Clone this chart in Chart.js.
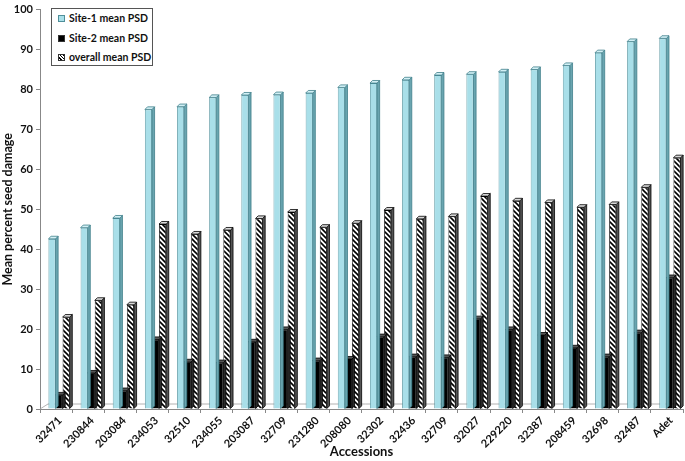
<!DOCTYPE html>
<html>
<head>
<meta charset="utf-8">
<script src="https://cdn.jsdelivr.net/npm/chart.js@4.4.1/dist/chart.umd.min.js"></script>
<style>
  html, body { margin: 0; padding: 0; background: #fff; }
  #wrap { position: relative; width: 685px; height: 461px; }
  #legend {
    position: absolute; left: 51px; top: 8px; width: 102px; height: 58px;
    border: 1px solid #555; background: #fff; box-sizing: border-box;
    font-family: Lato, "Open Sans", sans-serif; font-weight: bold; font-size: 10.5px; color: #111;
  }
  .item { position: absolute; left: 6px; height: 12px; line-height: 12px; white-space: nowrap; }
  .sw { display: inline-block; width: 7px; height: 7px; vertical-align: middle; margin-right: 4px; box-sizing: border-box; border: 1px solid #333; position: relative; top: -1px; }
</style>
</head>
<body>
<div id="wrap">
  <canvas id="c" width="685" height="461"></canvas>
  <div id="legend">
    <div class="item" style="top:3px"><span class="sw" style="background:#a9dfe9;border-color:#4f8f9a"></span>Site-1 mean PSD</div>
    <div class="item" style="top:23px"><span class="sw" style="background:#000"></span>Site-2 mean PSD</div>
    <div class="item" style="top:42px"><span class="sw" style="background:repeating-linear-gradient(45deg,#fff 0 1.2px,#000 1.2px 2.4px)"></span>overall mean PSD</div>
  </div>
</div>
<script>
const categories = ['32471','230844','203084','234053','32510','234055','203087','32709','231280','208080','32302','32436','32709','32027','229220','32387','208459','32698','32487','Adet'];
const site1Mean = [42.6,45.4,47.8,75.0,75.7,78.0,78.6,78.7,79.1,80.5,81.6,82.4,83.6,83.8,84.4,85.0,86.0,89.2,92.0,92.8];
const site2Mean = [3.5,9.0,4.6,17.4,11.8,11.6,16.8,19.9,12.1,12.5,18.1,13.1,12.9,22.6,19.9,18.5,15.3,13.1,19.1,32.9];
const overallMean = [23.0,27.2,26.1,46.3,43.8,44.8,47.7,49.3,45.5,46.5,49.8,47.6,48.2,53.3,52.1,51.7,50.5,51.2,55.5,62.9];
const yTicks = [0,10,20,30,40,50,60,70,80,90,100];

function hatch() {
  const p = document.createElement('canvas');
  p.width = 5; p.height = 5;
  const g = p.getContext('2d');
  g.fillStyle = '#fff'; g.fillRect(0,0,5,5);
  g.strokeStyle = '#000'; g.lineWidth = 1.6;
  g.beginPath();
  g.moveTo(-1,-1); g.lineTo(6,6);
  g.moveTo(-1,4); g.lineTo(1,6);
  g.moveTo(4,-1); g.lineTo(6,1);
  g.stroke();
  return document.getElementById('c').getContext('2d').createPattern(p,'repeat');
}
const hatchPattern = hatch();

const faces = [
  { side: '#6aa5b0', top: '#d2f0f5', edge: '#3f7f8a' },
  { side: '#2a2a2a', top: '#555555', edge: '#000' },
  { side: '#555555', top: '#d8d8d8', edge: '#000' }
];
const depth = 2.6;
const shiftX = 3;

const bar3d = {
  id: 'bar3d',
  beforeDatasetsDraw(chart) {
    const ctx = chart.ctx, a = chart.chartArea;
    ctx.save();
    ctx.strokeStyle = '#a0a0a0'; ctx.lineWidth = 0.8;
    ctx.beginPath();
    ctx.moveTo(a.left, a.bottom); ctx.lineTo(a.left + 8, a.bottom - 5);
    ctx.lineTo(a.right, a.bottom - 5); ctx.lineTo(a.right - 6, a.bottom);
    ctx.stroke();
    ctx.restore();
  },
  beforeDatasetDraw(chart) {
    chart.ctx.save();
    chart.ctx.translate(shiftX, 0);
  },
  afterDatasetDraw(chart, args) {
    const ctx = chart.ctx;
    const f = faces[args.index];
    ctx.save();
    ctx.lineWidth = 0.8;
    ctx.strokeStyle = f.edge;
    args.meta.data.forEach(el => {
      const p = el.getProps(['x','y','base','width'], true);
      const l = p.x - p.width/2, r = p.x + p.width/2;
      ctx.fillStyle = f.side;
      ctx.beginPath();
      ctx.moveTo(r, p.y); ctx.lineTo(r+depth, p.y-depth); ctx.lineTo(r+depth, p.base-depth); ctx.lineTo(r, p.base); ctx.closePath();
      ctx.fill(); ctx.stroke();
      ctx.fillStyle = f.top;
      ctx.beginPath();
      ctx.moveTo(l, p.y); ctx.lineTo(l+depth, p.y-depth); ctx.lineTo(r+depth, p.y-depth); ctx.lineTo(r, p.y); ctx.closePath();
      ctx.fill(); ctx.stroke();
    });
    ctx.restore();
    ctx.restore();
  }
};

const font = 'Lato, "Open Sans", sans-serif';
new Chart(document.getElementById('c'), {
  type: 'bar',
  data: {
    labels: categories,
    datasets: [
      { label: 'Site-1 mean PSD', data: site1Mean, backgroundColor: '#a9dfe9', borderColor: '#4f8f9a', borderWidth: 0.8 },
      { label: 'Site-2 mean PSD', data: site2Mean, backgroundColor: '#000', borderColor: '#000', borderWidth: 0.8 },
      { label: 'overall mean PSD', data: overallMean, backgroundColor: hatchPattern, borderColor: '#000', borderWidth: 0.8 }
    ]
  },
  options: {
    responsive: false,
    animation: false,
    layout: { padding: { top: 5, right: 2, left: 0, bottom: 0 } },
    plugins: { legend: { display: false }, tooltip: { enabled: false } },
    datasets: { bar: { categoryPercentage: 0.66, barPercentage: 1.0 } },
    scales: {
      x: {
        grid: { drawOnChartArea: false, tickLength: 4, color: '#888', offset: true },
        border: { color: '#888' },
        ticks: { minRotation: 45, maxRotation: 45, padding: 1, labelOffset: 4, color: '#111', font: { family: font, size: 11, weight: 'bold' } },
        title: { display: true, text: 'Accessions', color: '#111', font: { family: font, size: 13, weight: 'bold' }, padding: { top: 0, bottom: 1 } },
        afterFit(s) { s.height = 52; }
      },
      y: {
        min: 0, max: 100,
        afterBuildTicks(s) { s.ticks = yTicks.map(v => ({ value: v })); },
        grid: { drawOnChartArea: false, tickLength: 4, color: '#888' },
        border: { color: '#888' },
        ticks: { padding: 3, color: '#111', font: { family: font, size: 11, weight: 'bold' } },
        title: { display: true, text: 'Mean percent seed damage', color: '#111', font: { family: font, size: 12.5, weight: 'bold' }, padding: { top: 0, bottom: 0 } },
        afterFit(s) { s.width = 40; }
      }
    }
  },
  plugins: [bar3d]
});
</script>
</body>
</html>
